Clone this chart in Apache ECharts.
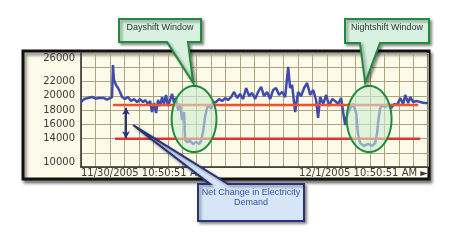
<!DOCTYPE html>
<html><head><meta charset="utf-8">
<script src="https://cdn.jsdelivr.net/npm/echarts@6/dist/echarts.min.js"></script>
<style>html,body{margin:0;padding:0;background:#fff}#c{width:450px;height:240px}</style>
</head><body><div id="c"></div><script>
// ---- data ----
const hours = [0,0.21,0.48,0.76,1.04,1.25,1.38,1.59,1.80,2.01,2.15,2.21,2.28,2.42,2.56,2.70,2.84,3.04,3.25,3.46,3.67,3.88,4.08,4.29,4.43,4.64,4.78,4.91,5.05,5.19,5.33,5.47,5.61,5.74,5.88,6.02,6.16,6.30,6.44,6.57,6.71,6.85,6.99,7.13,7.20,7.34,7.54,7.75,7.96,8.17,8.30,8.44,8.58,8.72,8.86,9.00,9.13,9.34,9.55,9.76,9.97,10.17,10.38,10.59,10.80,11.00,11.21,11.42,11.63,11.83,12.04,12.25,12.46,12.66,12.87,13.08,13.29,13.49,13.70,13.91,14.12,14.33,14.46,14.60,14.81,15.02,15.22,15.43,15.64,15.85,16.06,16.26,16.40,16.54,16.75,16.96,17.16,17.37,17.58,17.79,17.99,18.13,18.27,18.41,18.62,18.82,19.03,19.17,19.31,19.58,19.86,20.14,20.35,20.48,20.55,20.69,20.83,21.04,21.25,21.45,21.66,21.87,22.08,22.28,22.42,22.63,22.77,22.98,23.18,23.46,23.74,24];
const demand = [19120,19540,19680,19820,19610,19680,19400,19680,19470,19680,19820,24320,22210,21510,21090,20530,19820,19540,19820,19260,19540,19120,19540,19120,19400,18840,19260,17720,18980,17580,19400,18560,19820,18840,20110,18560,19400,20250,18980,19680,18000,18840,16600,17720,13790,13510,13650,13230,13510,13230,13650,14910,17020,18280,18700,18140,18980,19120,19540,19260,19680,19400,19820,20530,19680,20250,19540,21090,19960,20390,19540,20530,21230,19960,20530,19540,20810,21090,20110,20530,19820,24040,21090,21510,17720,20530,19960,21090,21790,20110,20810,19400,16880,19820,18840,20110,18560,19540,19260,18840,19680,17720,15890,17300,18280,18840,17580,14490,13370,12950,13230,12950,13370,14770,16320,18280,18700,18420,18840,18280,18840,18700,19680,18840,20110,18980,19820,19120,19260,19120,18980,18980];
const highLineHours = [2.21, 23.32];
const highLineValue = 18700;
const lowLineHours = [2.35, 23.46];
const lowLineValue = 13950;
const netArrowHour = 3.11;
const arrowTop = 18300;
const arrowBottom = 14050;
const yTickLabels = [10000, 14000, 16000, 18000, 20000, 22000, 26000];
const xTickLabels = ['11/30/2005 10:50:51 AM', '12/1/2005 10:50:51 AM \u25BA'];
const dayWindowCenter = [7.82, 16740];
const nightWindowCenter = [19.93, 16740];
const windowHalfHours = 1.55;
const windowHalfValue = 4650;
const netPointer = [3.6, 15890];
const dayshiftText = 'Dayshift Window';
const nightshiftText = 'Nightshift Window';
const netChangeText = ['Net Change in Electricity', 'Demand'];

// ---- chart ----
const chart = echarts.init(document.getElementById('c'), null, {renderer: 'canvas'});
const gridColor = '#ada381';
chart.setOption({
  animation: false,
  backgroundColor: '#ffffff',
  grid: {left: 81, right: 22, top: 53, bottom: 73},
  xAxis: {
    type: 'value', min: 0, max: 24, interval: 1,
    axisLine: {show: true, lineStyle: {color: '#2a2a2a', width: 1.5}},
    axisTick: {show: false},
    splitLine: {show: true, lineStyle: {color: gridColor, width: 1}},
    axisLabel: {
      formatter: v => v === 0 ? xTickLabels[0] : (v === 24 ? xTickLabels[1] : ''),
      showMinLabel: true, showMaxLabel: true,
      alignMinLabel: 'left', alignMaxLabel: 'right',
      margin: 1, fontFamily: 'DejaVu Sans', fontSize: 10, color: '#3a3a3a'
    }
  },
  yAxis: {
    type: 'value', min: 10000, max: 26000, interval: 2000,
    axisLine: {show: true, lineStyle: {color: '#2a2a2a', width: 1.5}},
    axisTick: {show: false},
    splitLine: {show: true, lineStyle: {color: gridColor, width: 1}},
    axisLabel: {
      formatter: v => yTickLabels.includes(v) ? String(v) : '',
      margin: 6, fontFamily: 'DejaVu Sans', fontSize: 10, color: '#3a3a3a',
      verticalAlignMaxLabel: 'top', verticalAlignMinLabel: 'bottom'
    }
  },
  series: [
    {
      type: 'line', data: hours.map((h, i) => [h, demand[i]]),
      showSymbol: false, symbol: 'none', z: 2,
      lineStyle: {color: '#3f4cae', width: 2.5},
      markLine: {
        silent: true, symbol: ['arrow', 'arrow'], symbolSize: [6, 7],
        label: {show: false},
        lineStyle: {color: '#28337d', width: 2, type: 'solid'},
        data: [[{coord: [netArrowHour, arrowTop]}, {coord: [netArrowHour, arrowBottom]}]]
      }
    },
    {
      type: 'line', data: highLineHours.map(h => [h, highLineValue]),
      showSymbol: false, symbol: 'none', z: 3,
      lineStyle: {color: '#f2502c', width: 2.5}
    },
    {
      type: 'line', data: lowLineHours.map(h => [h, lowLineValue]),
      showSymbol: false, symbol: 'none', z: 3,
      lineStyle: {color: '#e8322c', width: 2.5}
    }
  ]
});

const toPx = (h, v) => chart.convertToPixel({gridIndex: 0}, [h, v]);
function ellipsePts(cx, cy, rx, ry) {
  const pts = [];
  for (let i = 0; i < 72; i++) {
    const a = i / 72 * Math.PI * 2;
    pts.push([cx + rx * Math.cos(a), cy + ry * Math.sin(a)]);
  }
  return pts;
}
function windowGeom(center) {
  const c = toPx(center[0], center[1]);
  const e = toPx(center[0] + windowHalfHours, center[1] + windowHalfValue);
  return {cx: c[0], cy: c[1], rx: e[0] - c[0], ry: c[1] - e[1]};
}
const dw = windowGeom(dayWindowCenter);
const nw = windowGeom(nightWindowCenter);
const ap = toPx(netPointer[0], netPointer[1]);
const shadow = {shadowBlur: 3, shadowOffsetX: 2, shadowOffsetY: 2, shadowColor: 'rgba(0,0,0,0.4)'};
const green = '#1f8b3b';
const ellStyle = {fill: 'rgba(205,236,208,0.6)', stroke: green, lineWidth: 2};
const dayApex = [dw.cx - 1, dw.cy - dw.ry - 3];
const nightApex = [nw.cx - 4, nw.cy - nw.ry - 3];
const calloutFont = '9px "Liberation Sans"';

chart.setOption({
  graphic: [
    {type: 'rect', z: -1, shape: {x: 23, y: 51, width: 406, height: 128},
     style: {fill: '#fcfae8', stroke: '#111', lineWidth: 3, shadowBlur: 3, shadowOffsetX: 2, shadowOffsetY: 3, shadowColor: 'rgba(0,0,0,0.45)'}},
    {type: 'polygon', z: 10, shape: {points: ellipsePts(dw.cx, dw.cy, dw.rx, dw.ry)}, style: ellStyle},
    {type: 'polygon', z: 10, shape: {points: ellipsePts(nw.cx, nw.cy, nw.rx, nw.ry)}, style: ellStyle},
    {type: 'polygon', z: 11, shape: {points: [[119,19],[201,19],[201,42],[188,42],dayApex,[167,42],[119,42]]},
     style: Object.assign({fill: '#d8f1e1', stroke: green, lineWidth: 2}, shadow)},
    {type: 'text', z: 12, style: {text: dayshiftText, x: 160, y: 28, textAlign: 'center', textVerticalAlign: 'middle', verticalAlign: 'middle', font: calloutFont, fill: '#27392e'}},
    {type: 'polygon', z: 11, shape: {points: [[345,19],[429,19],[429,43],[380,43],nightApex,[360,43],[345,43]]},
     style: Object.assign({fill: '#d8f1e1', stroke: green, lineWidth: 2}, shadow)},
    {type: 'text', z: 12, style: {text: nightshiftText, x: 387, y: 28, textAlign: 'center', textVerticalAlign: 'middle', verticalAlign: 'middle', font: calloutFont, fill: '#27392e'}},
    {type: 'polygon', z: 11, shape: {points: [[198,184],[210,184],ap,[228,184],[304,184],[304,221],[198,221]]},
     style: Object.assign({fill: '#d7e6f6', stroke: '#26337a', lineWidth: 2}, shadow)},
    {type: 'text', z: 12, style: {text: netChangeText[0], x: 251, y: 193, textAlign: 'center', textVerticalAlign: 'middle', verticalAlign: 'middle', font: calloutFont, fill: '#3553a8'}},
    {type: 'text', z: 12, style: {text: netChangeText[1], x: 251, y: 203, textAlign: 'center', textVerticalAlign: 'middle', verticalAlign: 'middle', font: calloutFont, fill: '#3553a8'}}
  ]
});
</script></body></html>
